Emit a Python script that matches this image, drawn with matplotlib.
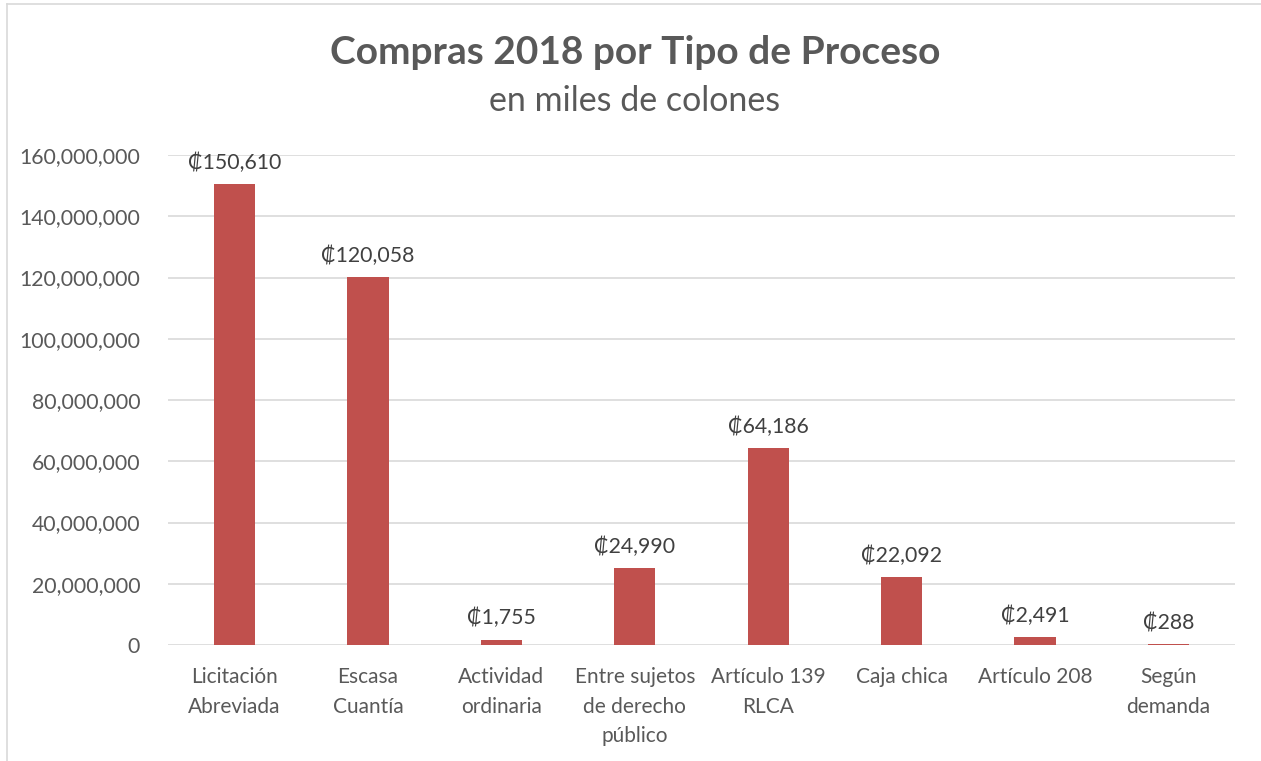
import matplotlib

matplotlib.use("Agg")
import matplotlib.pyplot as plt
from matplotlib.ticker import FuncFormatter

categories = ["Licitación\nAbreviada", "Escasa\nCuantía", "Actividad\nordinaria",
              "Entre sujetos\nde derecho\npúblico", "Artículo 139\nRLCA", "Caja chica",
              "Artículo 208", "Según\ndemanda"]
# monto en colones; la etiqueta muestra miles de colones
values = [150_610_000, 120_058_000, 1_755_000, 24_990_000, 64_186_000,
          22_092_000, 2_491_000, 288_000]
y_ticks = [0, 20_000_000, 40_000_000, 60_000_000, 80_000_000, 100_000_000,
           120_000_000, 140_000_000, 160_000_000]

BAR = "#C0504D"
TEXT = "#595959"
LABEL = "#404040"
GRID = "#D9D9D9"
FONT = ["Lato", "DejaVu Sans"]

plt.rcParams["font.family"] = FONT

fig = plt.figure(figsize=(12.61, 7.61), dpi=100)
ax = fig.add_axes([168 / 1261, 1 - 645 / 761, (1235 - 168) / 1261, (645 - 155) / 761])

x = range(len(categories))
ax.bar(x, values, width=0.31, color=BAR, zorder=3)
for xi, v in zip(x, values):
    ax.annotate(f"₡{v / 1000:,.0f}", (xi, v), textcoords="offset points", xytext=(0, 8),
                ha="center", va="bottom", fontsize=15.3, color=LABEL)

ax.set_xlim(-0.5, len(categories) - 0.5)
ax.set_ylim(0, 160_000_000)
ax.set_yticks(y_ticks)
ax.yaxis.set_major_formatter(FuncFormatter(lambda v, _: f"{v:,.0f}"))
ax.set_xticks(list(x))
ax.set_xticklabels(categories, fontsize=15, color=TEXT, va="top", linespacing=1.6)
ax.tick_params(axis="y", labelsize=15.3, labelcolor=TEXT, length=0, pad=20)
ax.tick_params(axis="x", length=0, pad=16)
ax.grid(axis="y", color=GRID, linewidth=1.2, zorder=0)
for s in ax.spines.values():
    s.set_visible(False)

fig.text(635 / 1261, 1 - 52 / 761, "Compras 2018 por Tipo de Proceso", ha="center",
         va="center", fontsize=28, fontweight="bold", color=TEXT)
fig.text(635 / 1261, 1 - 101 / 761, "en miles de colones", ha="center", va="center",
         fontsize=24.5, color=TEXT)

# borde del área del gráfico (solo se ven arriba e izquierda)
fig.add_artist(plt.Line2D([7 / 1261, 1], [1 - 4 / 761, 1 - 4 / 761], color=GRID, lw=1.2))
fig.add_artist(plt.Line2D([7 / 1261, 7 / 1261], [0, 1 - 4 / 761], color=GRID, lw=1.2))

fig.savefig("out.png", dpi=100)
